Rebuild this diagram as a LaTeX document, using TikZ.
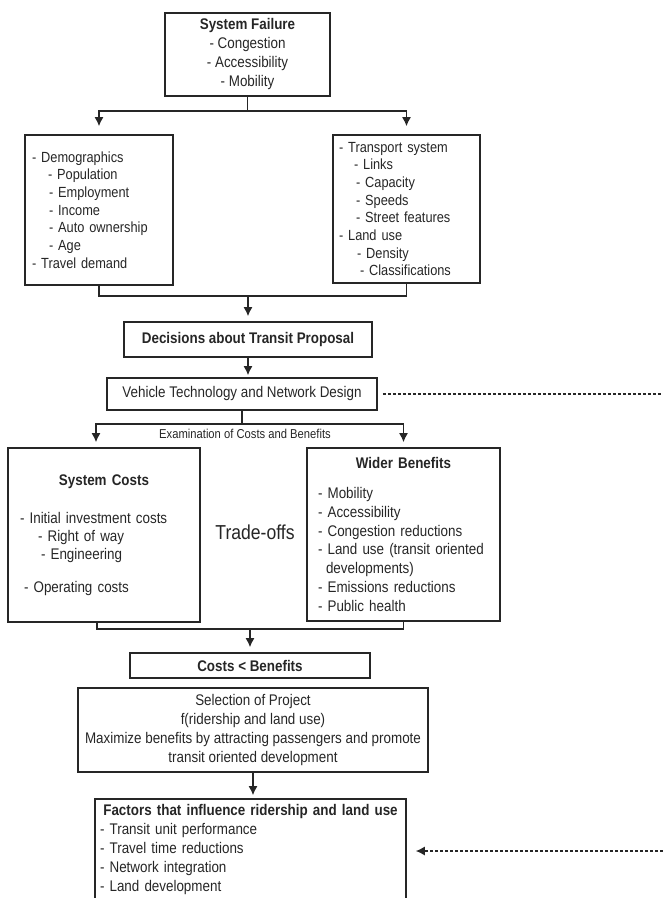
\documentclass[tikz,border=0pt]{standalone}
\usepackage{fontspec}
\setmainfont[FakeStretch=0.87]{Liberation Sans}
\usetikzlibrary{arrows.meta, positioning}

\begin{document}
\begin{tikzpicture}[
    x=1pt, y=-1pt,
    >={Latex[length=9pt, width=9pt]},
    every node/.style={font=\fontsize{15.4}{19}\selectfont, text=black!85},
    box/.style={draw=black!85, line width=1.6pt, inner sep=0pt, align=center},
    listbox/.style={box, align=left},
    line/.style={line width=1.4pt, black!85},
    arr/.style={line, ->},
    dotline/.style={line, densely dashed, line width=1.2pt},
]
\useasboundingbox (0,0) rectangle (663,898);

\node[box, minimum width=165pt, minimum height=83pt] (fail) at (247.5,54.5)
    {\textbf{System Failure}\\- Congestion\\- Accessibility\\- Mobility};
\node[listbox, minimum width=148pt, minimum height=150pt, text width=134pt, inner xsep=7pt,
      font=\fontsize{14.7}{17.7}\selectfont] (demo) at (99,210)
    {- Demographics\\
     \hspace*{16pt}- Population\\
     \hspace*{17pt}- Employment\\
     \hspace*{17pt}- Income\\
     \hspace*{17pt}- Auto ownership\\
     \hspace*{17pt}- Age\\
     - Travel demand};
\node[listbox, minimum width=147pt, minimum height=148pt, text width=135pt, inner xsep=6pt,
      font=\fontsize{14.7}{17.7}\selectfont] (trans) at (406.5,209)
    {- Transport system\\
     \hspace*{15pt}- Links\\
     \hspace*{17pt}- Capacity\\
     \hspace*{17pt}- Speeds\\
     \hspace*{17pt}- Street features\\
     - Land use\\
     \hspace*{18pt}- Density\\
     \hspace*{21pt}- Classifications};

\node[box, minimum width=248pt, minimum height=35pt] (dec) at (248,339.5)
    {\textbf{Decisions about Transit Proposal}};
\node[box, minimum width=270pt, minimum height=32pt] (vtech) at (242,394)
    {Vehicle Technology and Network Design};
\node[font=\fontsize{12.9}{14}\selectfont] (exam) at (245,434) {Examination of Costs and Benefits};

\node[listbox, minimum width=192pt, minimum height=174pt, text width=168pt, inner xsep=12pt,
      font=\fontsize{15.4}{18}\selectfont] (costs) at (104,535)
    {\makebox[\linewidth]{\textbf{System Costs}}\\[20pt]
     - Initial investment costs\\
     \hspace*{18pt}- Right of way\\
     \hspace*{21pt}- Engineering\\[15pt]
     \hspace*{4pt}- Operating costs};
\node[listbox, minimum width=193pt, minimum height=173pt, text width=171pt, inner xsep=11pt,
      font=\fontsize{15.4}{18.9}\selectfont] (bene) at (403.5,534.5)
    {\makebox[\linewidth]{\textbf{Wider Benefits}}\\[11pt]
     - Mobility\\
     - Accessibility\\
     - Congestion reductions\\
     - Land use (transit oriented\\
     \hspace*{8pt}developments)\\
     - Emissions reductions\\
     - Public health};
\node[font=\fontsize{20.2}{22}\selectfont] (trade) at (255,532) {Trade-offs};

\node[box, minimum width=240pt, minimum height=25pt] (cb) at (250,665.5)
    {\textbf{Costs < Benefits}};
\node[box, minimum width=350pt, minimum height=84pt] (sel) at (253,730)
    {Selection of Project\\f(ridership and land use)\\
     Maximize benefits by attracting passengers and promote\\transit oriented development};
\node[listbox, minimum width=311pt, minimum height=102pt, text width=301pt, inner xsep=5pt] (fact) at (250.5,850)
    {\makebox[\linewidth]{\textbf{Factors that influence ridership and land use}}\\
     - Transit unit performance\\
     - Travel time reductions\\
     - Network integration\\
     - Land development};

\coordinate (edgeT) at (663,394);
\coordinate (edgeB) at (663,851);

\draw[arr, shorten >=8pt] (fail.south) -- ++(0,14) -| (demo.north);
\draw[arr, shorten >=8pt] (fail.south) -- ++(0,14) -| (trans.north);
\draw[line] (demo.south) -- ++(0,10) -| (trans.south);
\draw[arr, shorten >=5pt] ([yshift=-10pt]demo.south -| dec.north) -- (dec.north);
\draw[arr, shorten >=2pt] (dec.south) -- (dec.south |- vtech.north);
\draw[arr, shorten >=5pt] (vtech.south) -- ++(0,13) -| ([xshift=-8pt]costs.north);
\draw[arr, shorten >=5pt] (vtech.south) -- ++(0,13) -| (bene.north);
\draw[dotline, shorten <=5pt] (vtech.east) -- (edgeT);
\draw[line] ([xshift=-7pt]costs.south) -- ++(0,6) -| (bene.south);
\draw[arr, shorten >=5pt] ([yshift=-6pt]costs.south -| cb.north) -- (cb.north);
\draw[arr, shorten >=3pt] (sel.south) -- (sel.south |- fact.north);
\draw[dotline, ->, shorten >=9pt] (edgeB) -- (fact.east |- edgeB);
\end{tikzpicture}
\end{document}
